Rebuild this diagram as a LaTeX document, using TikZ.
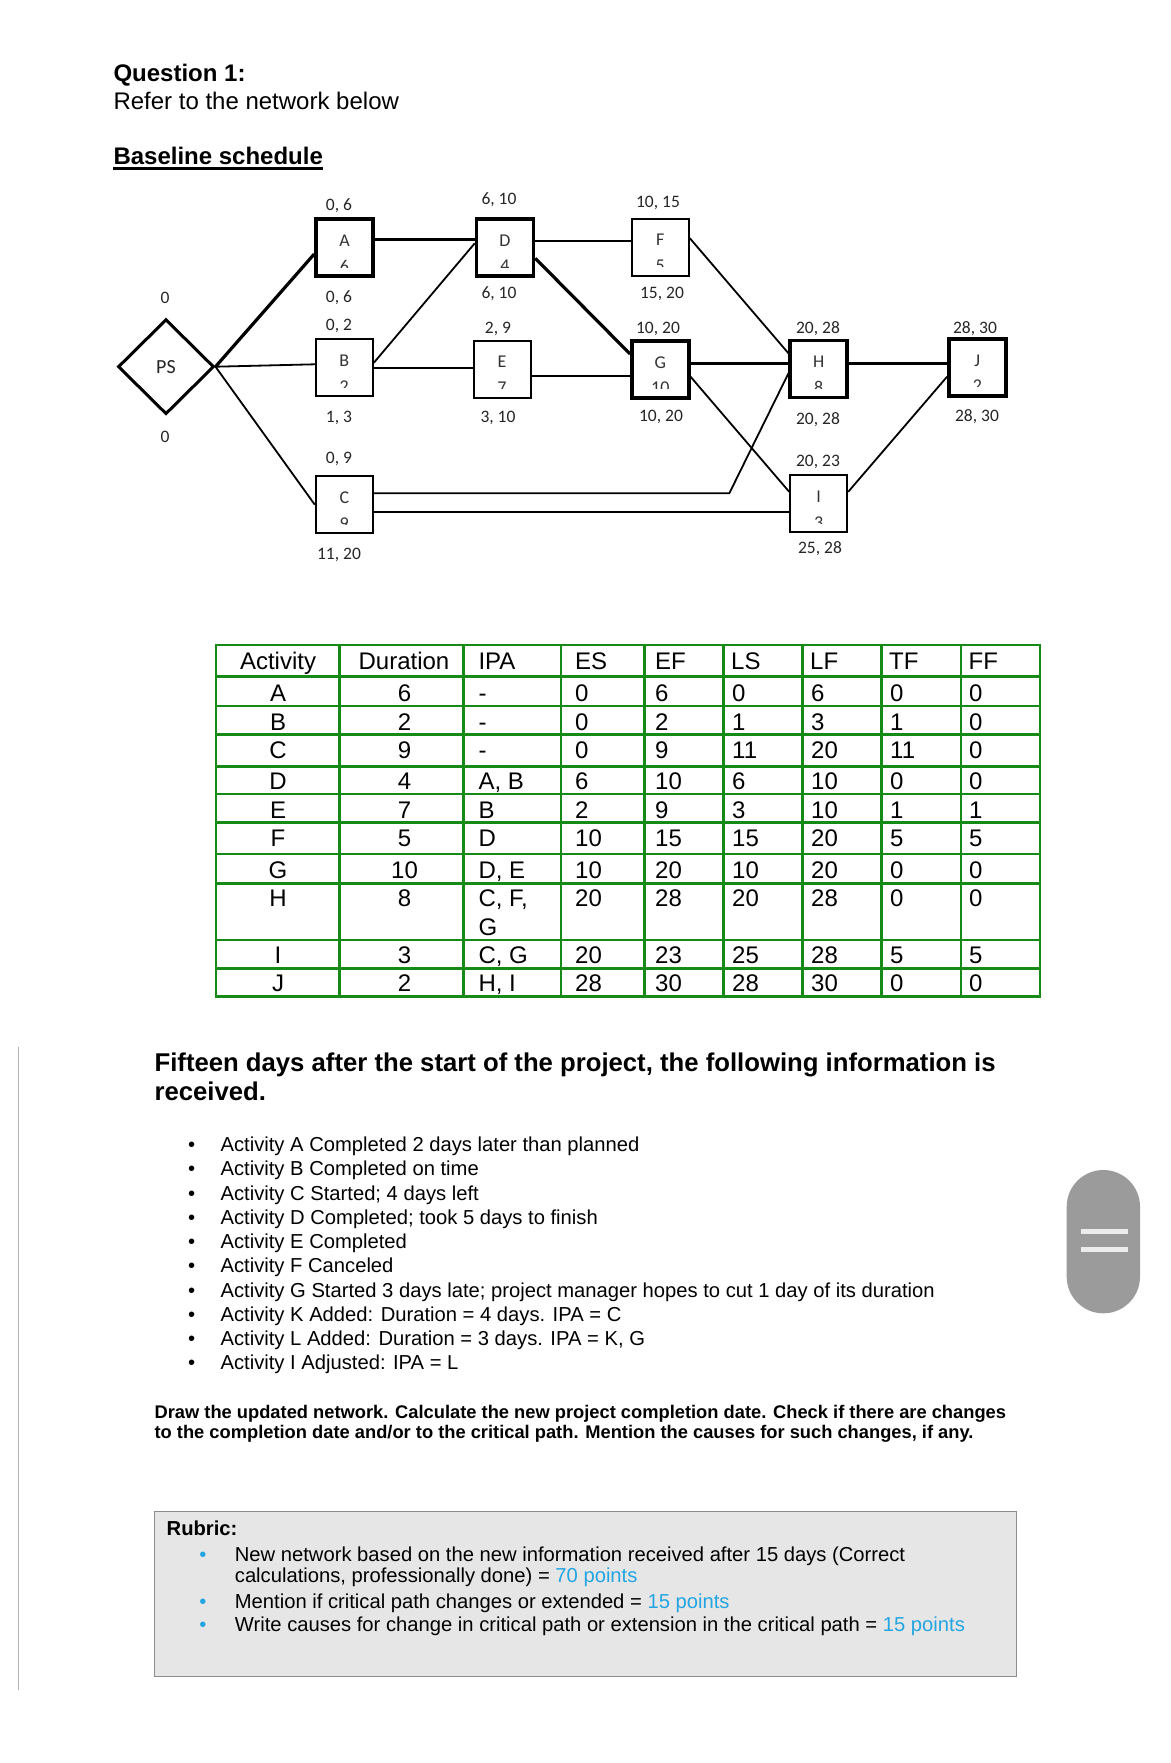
\documentclass[tikz,border=0pt]{standalone}
\usepackage{fontspec}
\setmainfont{Liberation Sans}
\newfontfamily\calfont{Carlito}
\usetikzlibrary{shapes.geometric,calc}
\definecolor{tgreen}{RGB}{22,138,22}
\definecolor{rblue}{RGB}{35,165,225}
\definecolor{rgray}{RGB}{230,230,230}
\definecolor{rborder}{RGB}{140,140,140}
\definecolor{pillc}{RGB}{155,155,155}
\definecolor{pillbar}{RGB}{236,236,236}
\newcommand\fs[1]{\fontsize{#1}{#1}\selectfont}
\newcommand\actbox[6]{%
  \node[abox,#6] (#1) at (#2,#3) {};
  \node[boxletter] (#1-l) at (#2,#3-7) {#4};
  \begin{scope}
    \clip (#2-27,#3-28) rectangle (#2+27,#3+19.5);
    \node[boxdigit] (#1-d) at (#2,#3+12.5) {#5};
  \end{scope}
}
\tikzset{
  abox/.style={draw, minimum width=57pt, minimum height=57pt, inner sep=0pt, line width=2pt},
  critbox/.style={line width=3.5pt},
  boxletter/.style={inner sep=0pt, font=\calfont\fs{18}, text=black!80},
  boxdigit/.style={inner sep=0pt, anchor=north, font=\calfont\fs{18}, text=black!80},
  lab/.style={inner sep=0pt, font=\calfont\fs{17.5}, text=black!85},
  conn/.style={line width=1.8pt},
  critconn/.style={line width=3.2pt},
  txt/.style={anchor=base west, inner sep=0pt},
  tcc/.style={anchor=base, inner sep=0pt, font=\fs{24}},
  tcl/.style={anchor=base west, inner sep=0pt, font=\fs{24}},
  tline/.style={draw=tgreen, line width=2.8pt, line cap=rect},
  bul/.style={anchor=base, inner sep=0pt, font=\fs{20.2}},
  btxt/.style={anchor=base west, inner sep=0pt, font=\fs{20.2}},
}
\begin{document}
\begin{tikzpicture}[x=1pt,y=-1pt]
\useasboundingbox[fill=white] (0,0) rectangle (1170,1763);

% headings
\node[txt, font=\bfseries\fs{24}] (q1) at (113.3,81.7) {Question 1:};
\node[txt, font=\fs{24}] (q2) at (113.3,110) {Refer to the network below};
\node[txt, font=\bfseries\fs{24}] (q3) at (113.3,165) {Baseline schedule};
\draw[line width=2.4pt] ($(q3.base west)+(0,3.5)$) -- ($(q3.base east)+(0,3.5)$);

% network nodes
\node[draw, diamond, line width=3pt, minimum width=96pt, minimum height=95pt, inner sep=0pt, font=\calfont\fs{20}, text=black!85] (PS) at (166,366.7) {PS};
\node[lab] (ps-t) at (165,298) {0};
\node[lab] (ps-b) at (165,436.7) {0};

\actbox{A}{344.5}{247.7}{A}{6}{critbox}
\actbox{D}{505}{247.7}{D}{4}{critbox}
\actbox{F}{660.3}{247.2}{F}{5}{}
\actbox{B}{344.3}{367.8}{B}{2}{}
\actbox{E}{502}{369}{E}{7}{}
\actbox{G}{660.3}{369.3}{G}{10}{critbox}
\actbox{H}{818.7}{369}{H}{8}{critbox}
\actbox{J}{977.3}{367.3}{J}{2}{critbox}
\actbox{C}{344.3}{504.7}{C}{9}{}
\actbox{I}{818.7}{503.8}{I}{3}{}

% labels
\node[lab] (A-t) at (339,206) {0, 6};
\node[lab] (A-b) at (339,298) {0, 6};
\node[lab] (D-t) at (499,200) {6, 10};
\node[lab] (D-b) at (499,294) {6, 10};
\node[lab] (F-t) at (658,203) {10, 15};
\node[lab] (F-b) at (662,294) {15, 20};
\node[lab] (B-t) at (339,326) {0, 2};
\node[lab] (B-b) at (339,418) {1, 3};
\node[lab] (E-t) at (498,329) {2, 9};
\node[lab] (E-b) at (498,418) {3, 10};
\node[lab] (G-t) at (658,329) {10, 20};
\node[lab] (G-b) at (661,417) {10, 20};
\node[lab] (H-t) at (818,329) {20, 28};
\node[lab] (H-b) at (818,420) {20, 28};
\node[lab] (J-t) at (975,329) {28, 30};
\node[lab] (J-b) at (977,417) {28, 30};
\node[lab] (C-t) at (339,459) {0, 9};
\node[lab] (C-b) at (339,555) {11, 20};
\node[lab] (I-t) at (818,462) {20, 23};
\node[lab] (I-b) at (820,549) {25, 28};

% connectors
\coordinate (cbend) at (729.3,493.3);
\draw[critconn] (PS.east) -- ([yshift=-6.3pt]A.west);
\draw[conn] (PS.east) -- ([yshift=3.5pt]B.west);
\draw[conn] (PS.east) -- (C.west);
\draw[critconn] ([yshift=8.4pt]A.east) -- ([yshift=8.4pt]D.west);
\draw[conn] ([yshift=5pt]B.east) -- ([yshift=4.4pt]D.west);
\draw[conn] (B.east) -- (B.east -| E.west);
\draw[conn] ([yshift=6.7pt]D.east) -- ([yshift=6.7pt]D.east -| F.west);
\draw[critconn] ([yshift=-10.6pt]D.east) -- ([yshift=15.3pt]G.west);
\draw[conn] ([yshift=-6.7pt]E.east) -- ([yshift=-6.7pt]E.east -| G.west);
\draw[conn] ([yshift=9pt]F.east) -- ([yshift=15.7pt]H.west);
\draw[critconn] ([yshift=6pt]G.east) -- ([yshift=6pt]G.east -| H.west);
\draw[conn] ([yshift=-7.4pt]G.east) -- ([yshift=12pt]I.west);
\draw[conn] ([yshift=11.4pt]C.east) -- ([yshift=11.4pt]C.east -| cbend) -- ([yshift=-4.3pt]H.west);
\draw[conn] ([yshift=-7.6pt]C.east) -- ([yshift=-7.6pt]C.east -| I.west);
\draw[critconn] ([yshift=5.7pt]H.east) -- ([yshift=5.7pt]H.east -| J.west);
\draw[conn] ([yshift=12pt]I.east) -- ([yshift=-9.4pt]J.west);

% table grid
\foreach \x in {216,339.3,463.3,561,644.3,723.3,802.3,881.7,961,1040}
  \draw[tline] (\x,645) -- (\x,996.7);
\foreach \y in {645,676.7,706,734.3,766.7,794,822.7,854,883.3,940,968.3,996.7}
  \draw[tline] (216,\y) -- (1040,\y);

% table header
\node[tcc] (th1) at (278,669.5) {Activity};
\node[tcc] (th2) at (404,669.5) {Duration};
\node[tcl] (th3) at (478.3,669.5) {IPA};
\node[tcl] (th4) at (575,669.5) {ES};
\node[tcl] (th5) at (655,669.5) {EF};
\node[tcl] (th6) at (731,669.5) {LS};
\node[tcl] (th7) at (810,669.5) {LF};
\node[tcl] (th8) at (889,669.5) {TF};
\node[tcl] (th9) at (968.5,669.5) {FF};

% table rows
\foreach \kn/\ka/\kb/\kc/\kd/\ke/\kf/\kg/\kh/\ki/\ky in {
  1/A/6/-/0/6/0/6/0/0/701.5,
  2/B/2/-/0/2/1/3/1/0/730,
  3/C/9/-/0/9/11/20/11/0/758.5,
  4/D/4/{A, B}/6/10/6/10/0/0/789.5,
  5/E/7/B/2/9/3/10/1/1/818.3,
  6/F/5/D/10/15/15/20/5/5/846.7,
  7/G/10/{D, E}/10/20/10/20/0/0/878.3,
  8/H/8/{C, F,}/20/28/20/28/0/0/906.7,
  9/I/3/{C, G}/20/23/25/28/5/5/963.3,
  10/J/2/{H, I}/28/30/28/30/0/0/991.7}
{
  \node[tcc] (r\kn-a) at (278,\ky) {\ka};
  \node[tcc] (r\kn-b) at (404.5,\ky) {\kb};
  \node[tcl] (r\kn-c) at (478.3,\ky) {\kc};
  \node[tcl] (r\kn-d) at (575,\ky) {\kd};
  \node[tcl] (r\kn-e) at (655,\ky) {\ke};
  \node[tcl] (r\kn-f) at (732,\ky) {\kf};
  \node[tcl] (r\kn-g) at (811,\ky) {\kg};
  \node[tcl] (r\kn-h) at (890,\ky) {\kh};
  \node[tcl] (r\kn-i) at (969,\ky) {\ki};
}
\node[tcl] (r8-c2) at (478.3,935) {G};

% update text
\node[txt, font=\bfseries\fs{25.7}] (f1) at (154.4,1071.7) {Fifteen days after the start of the project, the following information is};
\node[txt, font=\bfseries\fs{25.7}] (f2) at (154.4,1100) {received.};

\foreach \i/\t in {
  1/{Activity A Completed 2 days later than planned},
  2/{Activity B Completed on time},
  3/{Activity C Started; 4 days left},
  4/{Activity D Completed; took 5 days to finish},
  5/{Activity E Completed},
  6/{Activity F Canceled},
  7/{Activity G Started 3 days late; project manager hopes to cut 1 day of its duration},
  8/{Activity K Added: Duration = 4 days. IPA = C},
  9/{Activity L Added: Duration = 3 days. IPA = K, G},
  10/{Activity I Adjusted: IPA = L}}
{
  \node[bul] (bd\i) at (191.7,{1151.7+24.25*(\i-1)}) {•};
  \node[btxt] (bt\i) at (220.4,{1151.7+24.25*(\i-1)}) {\t};
}

\node[txt, font=\bfseries\fs{18.3}] (dr1) at (154.4,1418.3) {Draw the updated network. Calculate the new project completion date. Check if there are changes};
\node[txt, font=\bfseries\fs{18.3}] (dr2) at (154.4,1438.8) {to the completion date and/or to the critical path. Mention the causes for such changes, if any.};

% rubric
\draw[fill=rgray, draw=rborder, line width=1.5pt] (154.4,1511.7) rectangle (1016.6,1676.7);
\node[txt, font=\bfseries\fs{20.2}] (rb) at (166.5,1535) {Rubric:};
\node[bul, text=rblue] (rd1) at (203,1561) {•};
\node[btxt] (rt1) at (234.7,1561) {New network based on the new information received after 15 days (Correct};
\node[btxt] (rt1b) at (234.7,1582) {calculations, professionally done) = \textcolor{rblue}{70 points}};
\node[bul, text=rblue] (rd2) at (203,1608.3) {•};
\node[btxt] (rt2) at (234.7,1608.3) {Mention if critical path changes or extended = \textcolor{rblue}{15 points}};
\node[bul, text=rblue] (rd3) at (203,1631.7) {•};
\node[btxt] (rt3) at (234.7,1631.7) {Write causes for change in critical path or extension in the critical path = \textcolor{rblue}{15 points}};

% side decorations
\draw[line width=1.2pt, draw=black!30] (18.3,1047) -- (18.3,1690);
\fill[pillc, rounded corners=36.6pt] (1066.7,1170) rectangle (1140,1313.3);
\fill[pillbar] (1080.7,1229) rectangle (1127.7,1234);
\fill[pillbar] (1080.7,1247.3) rectangle (1127.7,1252.3);
\end{tikzpicture}
\end{document}
